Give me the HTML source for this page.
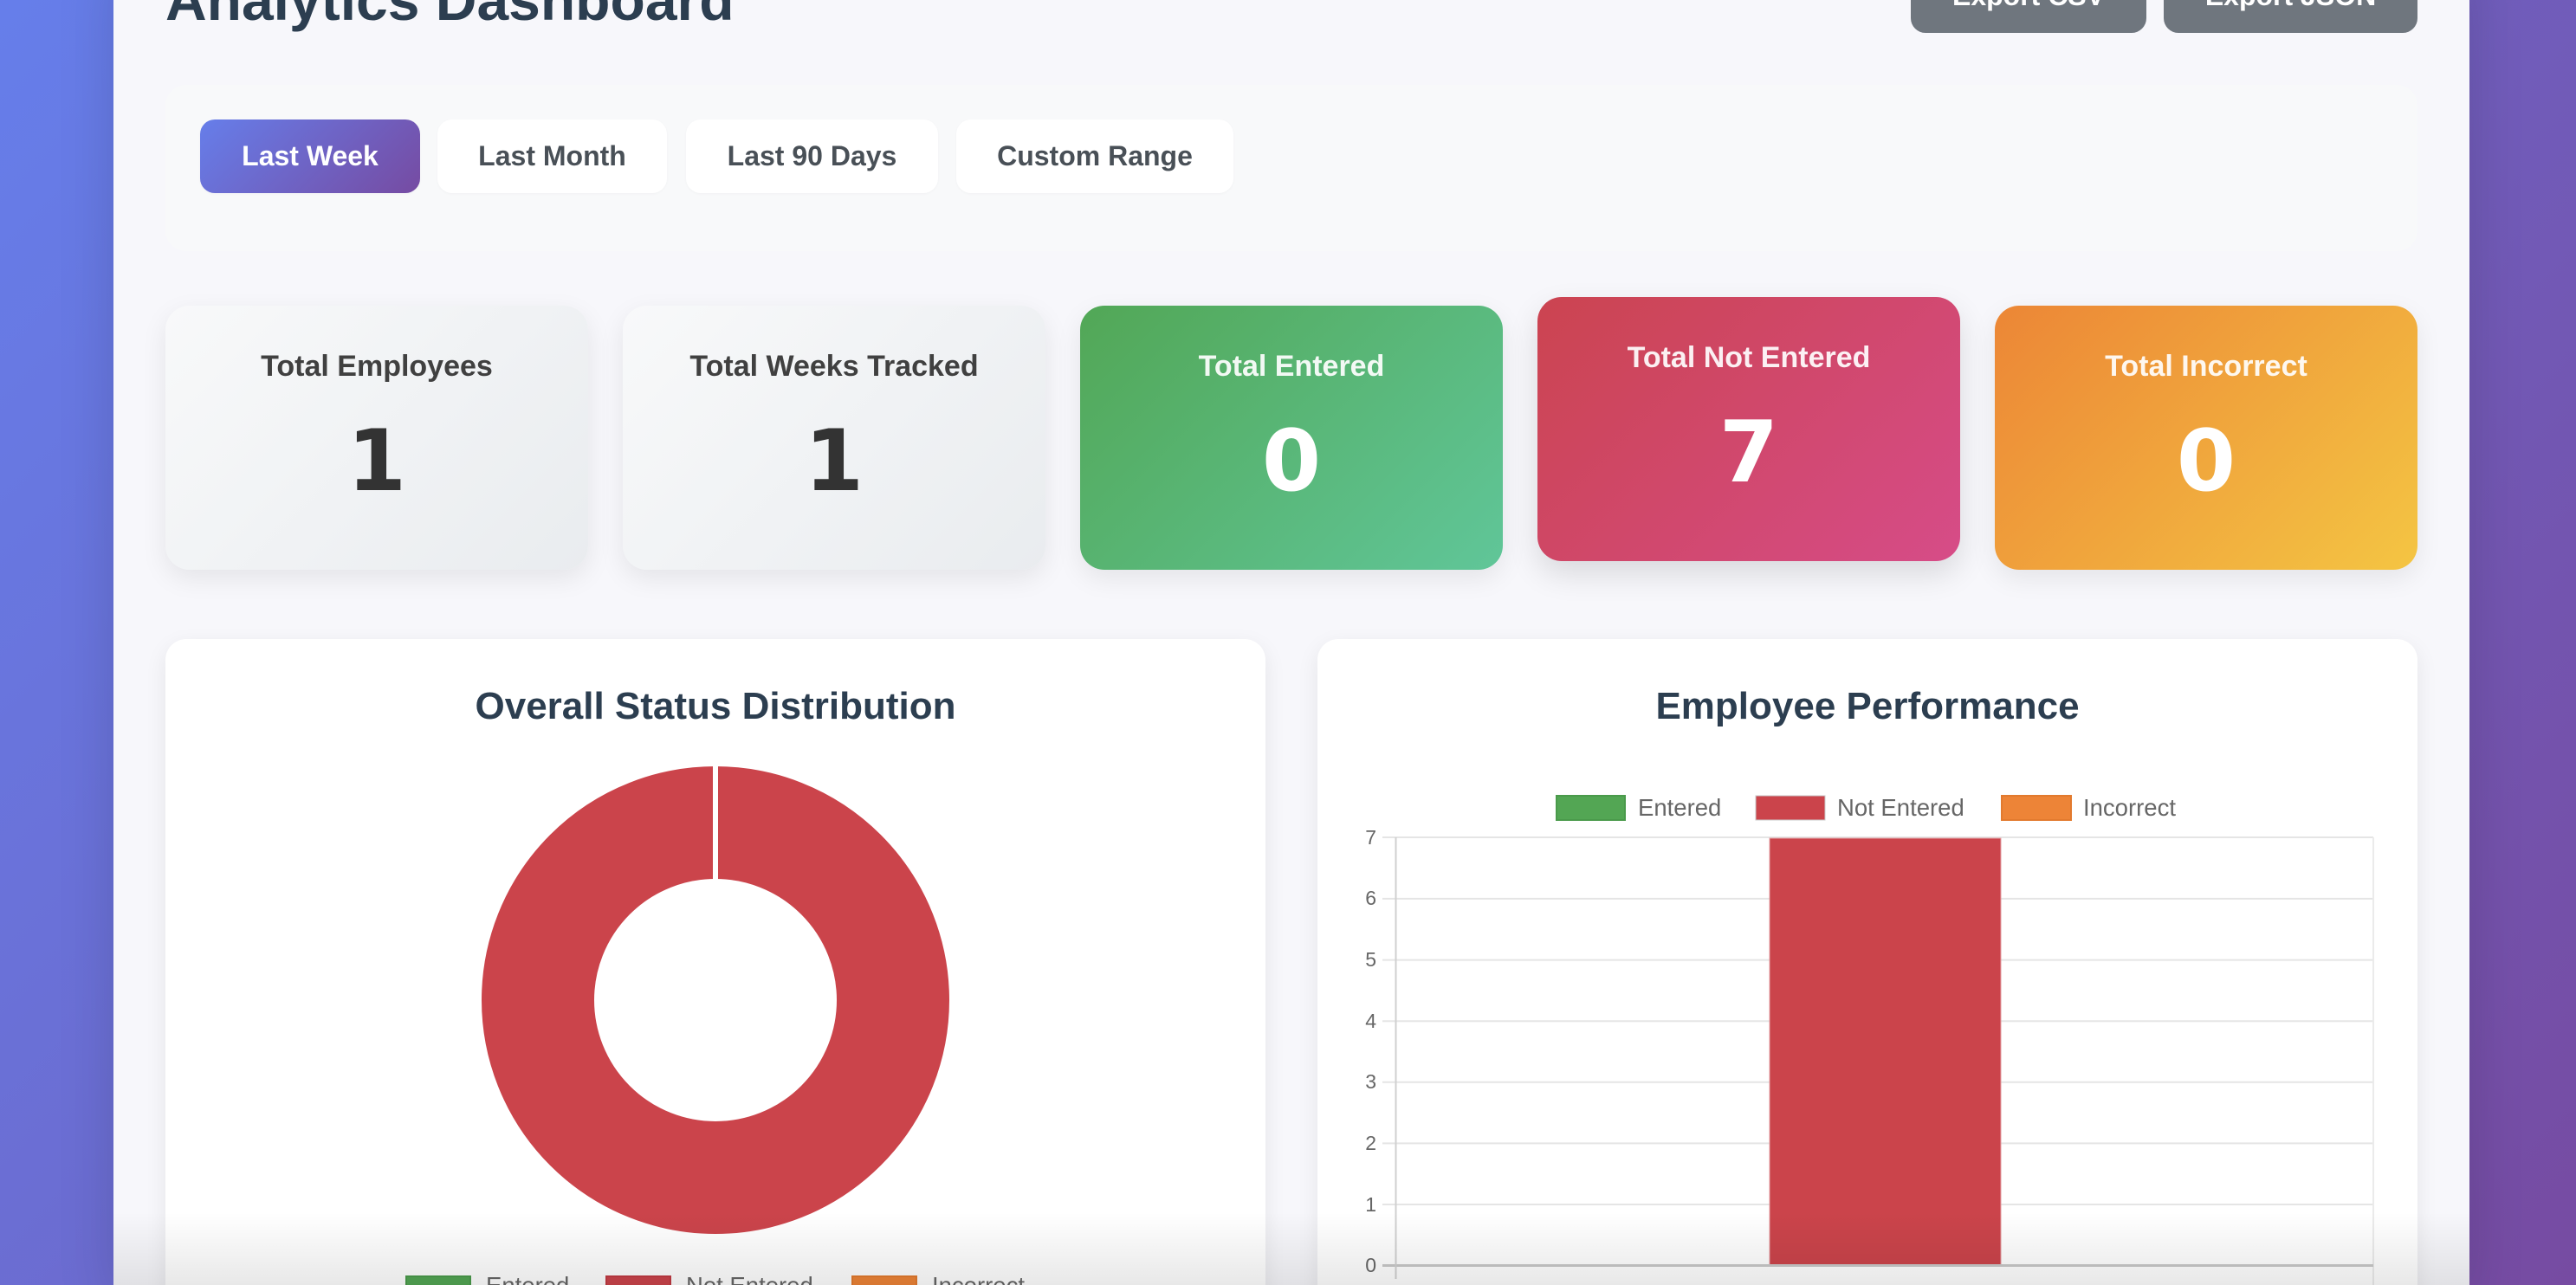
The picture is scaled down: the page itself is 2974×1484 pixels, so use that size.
<!DOCTYPE html>
<html>
<head>
<meta charset="utf-8">
<style>
  html,body{margin:0;padding:0;width:2974px;height:1484px;overflow:hidden;}
  body{font-family:"Liberation Sans",Arial,sans-serif;}
  #wrap{position:relative;width:2974px;height:1484px;overflow:hidden;
    background:linear-gradient(135deg,#667eea 0%,#764ba2 100%);}
  .abs{position:absolute;}
  .main{position:absolute;left:131px;top:-60px;width:2720px;height:1544px;background:#f7f7fb;box-shadow:0 20px 60px rgba(0,0,0,0.15);}
  .title{position:absolute;left:191px;top:-33px;font-size:66px;line-height:66px;font-weight:bold;color:#2c3e50;white-space:nowrap;}
  .exp{position:absolute;top:-47px;height:85px;line-height:85px;background:#6f767e;color:#fff;font-weight:bold;font-size:32px;text-align:center;border-radius:17px;white-space:nowrap;}
  .filterbox{position:absolute;left:191px;top:98px;width:2600px;height:192px;background:#f8f9fa;border-radius:24px;}
  .fbtn{position:absolute;top:138px;height:85px;line-height:85px;font-size:32px;font-weight:bold;color:#495057;background:#fff;border-radius:17px;text-align:center;white-space:nowrap;box-shadow:0 1px 3px rgba(0,0,0,0.03);}
  .fbtn.active{background:linear-gradient(135deg,#667eea,#764ba2);color:#fff;}
  .card{position:absolute;top:353px;width:488px;height:305px;border-radius:28px;box-shadow:0 10px 30px rgba(0,0,0,0.08);}
  .card .ct{position:absolute;left:0;width:100%;top:53px;font-size:34px;line-height:34px;font-weight:bold;text-align:center;white-space:nowrap;}
  .card .cn{position:absolute;left:0;width:100%;top:131px;font-family:"DejaVu Sans",sans-serif;font-size:98px;line-height:98px;font-weight:bold;text-align:center;}
  .grey{background:linear-gradient(135deg,#f8f9fa 0%,#e9ecef 100%);}
  .grey .ct{color:#404040;}
  .grey .cn{color:#333;}
  .col .ct{color:rgba(255,255,255,0.92);}
  .col .cn{color:#fff;}
  .chartcard{position:absolute;top:738px;width:1270px;height:800px;background:#fff;border-radius:24px;box-shadow:0 8px 25px rgba(0,0,0,0.08);}
  .ctitle{position:absolute;top:794px;width:1270px;text-align:center;font-size:44px;line-height:44px;font-weight:bold;color:#2c3e50;white-space:nowrap;}
  .lg{position:absolute;font-size:27.5px;line-height:27.5px;color:#666;white-space:nowrap;}
  .tick{position:absolute;left:1540px;width:49px;text-align:right;font-size:23px;line-height:23px;color:#666;}
  .fade{position:absolute;left:131px;top:1400px;width:2720px;height:84px;background:linear-gradient(to bottom,rgba(0,0,0,0) 0%,rgba(0,0,0,0.09) 100%);}
</style>
</head>
<body>
<div id="wrap">
<div class="main"></div>

<div class="title">Analytics Dashboard</div>
<div class="exp" style="left:2206px;width:272px;">Export CSV</div>
<div class="exp" style="left:2498px;width:293px;">Export JSON</div>

<div class="filterbox"></div>
<div class="fbtn active" style="left:231px;width:254px;">Last Week</div>
<div class="fbtn" style="left:505px;width:265px;">Last Month</div>
<div class="fbtn" style="left:792px;width:291px;">Last 90 Days</div>
<div class="fbtn" style="left:1104px;width:320px;">Custom Range</div>

<div class="card grey" style="left:191px;"><div class="ct">Total Employees</div><div class="cn">1</div></div>
<div class="card grey" style="left:719px;"><div class="ct">Total Weeks Tracked</div><div class="cn">1</div></div>
<div class="card col" style="left:1247px;background:linear-gradient(135deg,#52a756 0%,#60c699 100%);"><div class="ct">Total Entered</div><div class="cn">0</div></div>
<div class="card col" style="left:1775px;top:343px;background:linear-gradient(135deg,#cb4450 0%,#d64c88 100%);box-shadow:0 15px 35px rgba(0,0,0,0.12);"><div class="ct">Total Not Entered</div><div class="cn">7</div></div>
<div class="card col" style="left:2303px;background:linear-gradient(135deg,#ec8636 0%,#f4c543 100%);"><div class="ct">Total Incorrect</div><div class="cn">0</div></div>

<div class="chartcard" style="left:191px;"></div>
<div class="chartcard" style="left:1521px;"></div>
<div class="ctitle" style="left:191px;">Overall Status Distribution</div>
<div class="ctitle" style="left:1521px;">Employee Performance</div>

<svg class="abs" style="left:0;top:0;" width="2974" height="1484" viewBox="0 0 2974 1484">
  <!-- Donut -->
  <circle cx="826" cy="1155" r="205" fill="none" stroke="#cb444b" stroke-width="130"/>
  <rect x="823" y="884" width="6" height="132" fill="#fff"/>
  <!-- Donut legend -->
  <rect x="469" y="1474" width="74" height="28" fill="#53a654" stroke="#4a9a4b" stroke-width="2"/>
  <rect x="700" y="1474" width="74" height="28" fill="#cb444b" stroke="#c03a42" stroke-width="2"/>
  <rect x="984" y="1474" width="74" height="28" fill="#ed8437" stroke="#e27a2e" stroke-width="2"/>

  <!-- Bar chart legend -->
  <rect x="1797" y="919" width="79" height="28" fill="#53a654" stroke="#4a9a4b" stroke-width="2"/>
  <rect x="2027" y="919" width="80" height="28" fill="#cb444b" stroke="#c8c8c8" stroke-width="1"/>
  <rect x="2311" y="919" width="80" height="28" fill="#ed8437" stroke="#e27a2e" stroke-width="2"/>

  <!-- gridlines -->
  <g stroke="#e5e5e5" stroke-width="2">
    <line x1="1596" y1="967" x2="2740" y2="967"/>
    <line x1="1596" y1="1037.9" x2="2740" y2="1037.9"/>
    <line x1="1596" y1="1108.6" x2="2740" y2="1108.6"/>
    <line x1="1596" y1="1179.2" x2="2740" y2="1179.2"/>
    <line x1="1596" y1="1249.8" x2="2740" y2="1249.8"/>
    <line x1="1596" y1="1320.4" x2="2740" y2="1320.4"/>
    <line x1="1596" y1="1391" x2="2740" y2="1391"/>
  </g>
  <line x1="2740" y1="967" x2="2740" y2="1484" stroke="#ebebeb" stroke-width="2"/>
  <!-- bar -->
  <rect x="2043" y="968" width="267" height="493" fill="#cb444b" stroke="#e3a0a4" stroke-width="1"/>
  <!-- zero line and axis -->
  <line x1="1596" y1="1461.5" x2="2740" y2="1461.5" stroke="#c8c8c8" stroke-width="3"/>
  <line x1="1611.5" y1="967" x2="1611.5" y2="1477" stroke="#d0d0d0" stroke-width="2"/>
</svg>

<div class="lg" style="left:561px;top:1471px;">Entered</div>
<div class="lg" style="left:792px;top:1471px;">Not Entered</div>
<div class="lg" style="left:1076px;top:1471px;">Incorrect</div>

<div class="lg" style="left:1891px;top:919px;">Entered</div>
<div class="lg" style="left:2121px;top:919px;">Not Entered</div>
<div class="lg" style="left:2405px;top:919px;">Incorrect</div>

<div class="tick" style="top:955.5px;">7</div>
<div class="tick" style="top:1026.4px;">6</div>
<div class="tick" style="top:1097px;">5</div>
<div class="tick" style="top:1167.7px;">4</div>
<div class="tick" style="top:1238.3px;">3</div>
<div class="tick" style="top:1308.9px;">2</div>
<div class="tick" style="top:1379.5px;">1</div>
<div class="tick" style="top:1450px;">0</div>

<div class="fade"></div>
</div>
</body>
</html>
